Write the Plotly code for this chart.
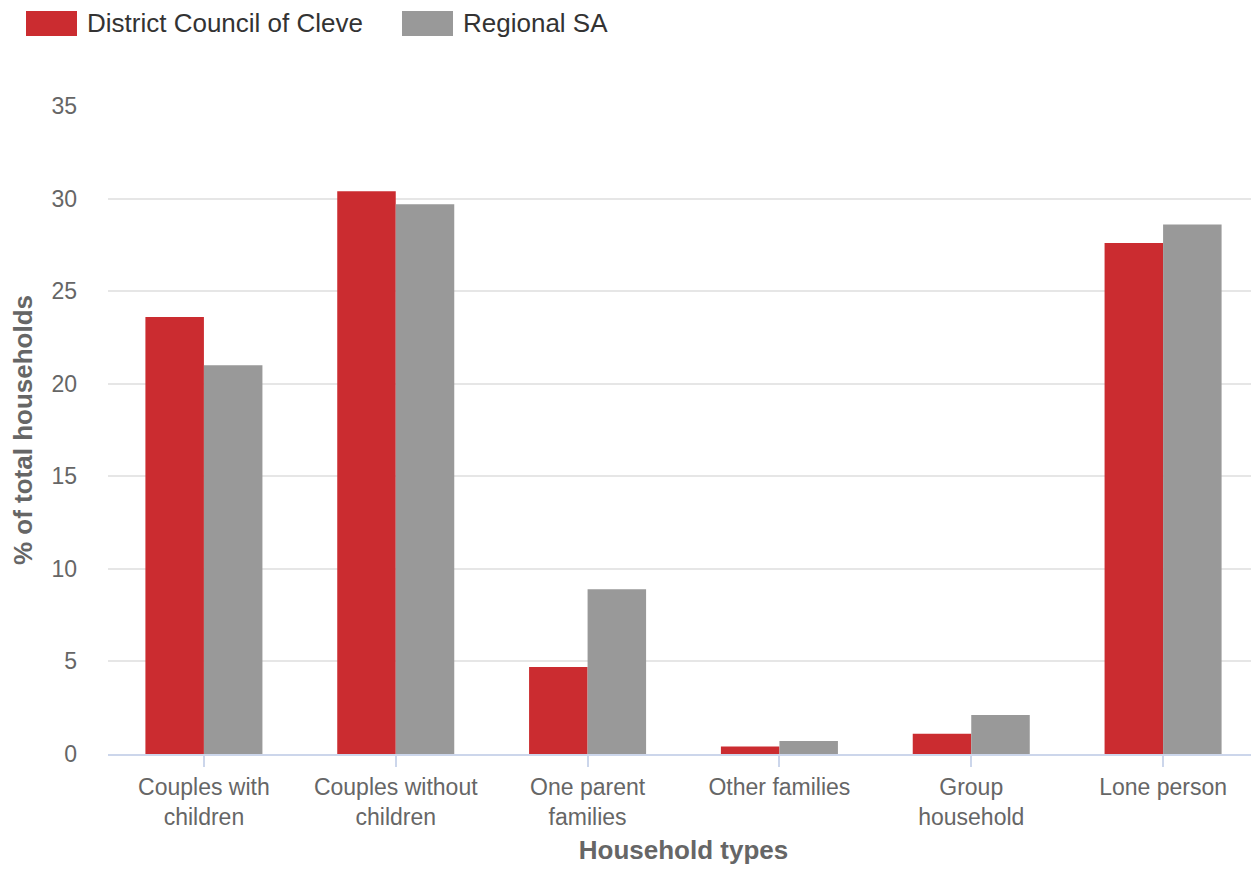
import plotly.graph_objects as go

categories = ["Couples with<br>children", "Couples without<br>children", "One parent<br>families",
              "Other families", "Group<br>household", "Lone person"]
cleve = [23.6, 30.4, 4.7, 0.4, 1.1, 27.6]
regional = [21.0, 29.7, 8.9, 0.7, 2.1, 28.6]
series_names = ["District Council of Cleve", "Regional SA"]
colors = ["#cb2c30", "#999999"]
y_ticks = [0, 5, 10, 15, 20, 25, 30, 35]

FONT = "Liberation Sans, Arial, sans-serif"

fig = go.Figure()
fig.add_trace(go.Bar(x=categories, y=cleve, name=series_names[0], marker_color=colors[0],
                     marker_line_width=0))
fig.add_trace(go.Bar(x=categories, y=regional, name=series_names[1], marker_color=colors[1],
                     marker_line_width=0))

fig.update_layout(
    width=1251, height=862,
    margin=dict(l=100, r=0, t=98, b=116),
    barmode="group", bargap=0.39, bargroupgap=0,
    plot_bgcolor="white", paper_bgcolor="white",
    showlegend=False,
    font=dict(family=FONT, color="#666666"),
    xaxis=dict(
        showgrid=False, showline=True, linecolor="#ccd6eb", linewidth=2,
        ticks="outside", ticklen=11, tickcolor="#ccd6eb", tickwidth=2,
        tickfont=dict(size=23, color="#666666"),
        title=dict(text="<b>Household types</b>", font=dict(size=26, color="#666666"), standoff=12),
    ),
    yaxis=dict(
        range=[0, 35], tickvals=y_ticks, showgrid=True, gridcolor="#e6e6e6", gridwidth=2,
        zeroline=False, showline=False, ticks="", ticklabelstandoff=30,
        tickfont=dict(size=23, color="#666666"),
        title=dict(text="<b>% of total households</b>", font=dict(size=26, color="#666666"), standoff=16),
    ),
)

# custom legend (large swatches), positions in page pixels converted to paper coords
legend_x = [26, 402]
for i, name in enumerate(series_names):
    fig.add_shape(type="rect", xref="paper", yref="paper",
                  x0=(legend_x[i] - 108) / 1151, x1=(legend_x[i] + 51 - 108) / 1151,
                  y0=(754 - 11) / 648, y1=(754 - 36) / 648,
                  fillcolor=colors[i], line_width=0)
    fig.add_annotation(text=name, xref="paper", yref="paper",
                       x=(legend_x[i] + 59 - 108) / 1151, y=(754 - 23.5) / 648,
                       xanchor="left", yanchor="middle", showarrow=False,
                       font=dict(size=26, color="#333333", family=FONT))

fig.write_html("out.html")
